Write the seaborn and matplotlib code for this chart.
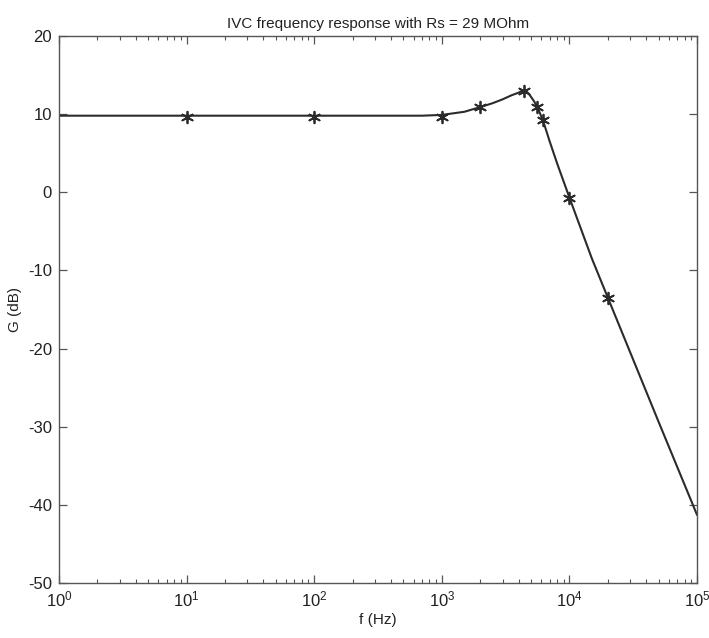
import numpy as np
import pandas as pd
import matplotlib
matplotlib.use("Agg")
import matplotlib.pyplot as plt
from matplotlib.ticker import LogLocator, FixedLocator, NullFormatter
import seaborn as sns

# Response curve (frequency in Hz, gain in dB)
curve_f = [1, 10, 100, 300, 700, 1000, 1500, 2000, 2500, 3000, 3500, 4000, 4200, 4400,
           4600, 4800, 5000, 5300, 5600, 6200, 7000, 8000, 10000, 15000, 20000, 50000, 100000]
curve_g = [9.8, 9.8, 9.8, 9.8, 9.8, 9.9, 10.3, 10.9, 11.4, 11.9, 12.4, 12.75, 12.95, 13.0,
           12.9, 12.6, 12.2, 11.6, 10.9, 9.2, 6.5, 3.7, -0.7, -8.5, -13.5, -29.4, -41.3]

# Measured points
meas_f = [10, 100, 1000, 2000, 4400, 5600, 6200, 10000, 20000]
meas_g = [9.6, 9.6, 9.6, 10.9, 13.0, 10.9, 9.2, -0.7, -13.5]

x_ticks = [1, 10, 100, 1000, 10000, 100000]
x_tick_labels = [r"$10^{0}$", r"$10^{1}$", r"$10^{2}$", r"$10^{3}$", r"$10^{4}$", r"$10^{5}$"]
y_ticks = [-50, -40, -30, -20, -10, 0, 10, 20]

sns.set_theme(style="white")
plt.rcParams["font.family"] = ["Liberation Sans", "DejaVu Sans"]
plt.rcParams["mathtext.fontset"] = "custom"
plt.rcParams["mathtext.rm"] = "Liberation Sans"
plt.rcParams["mathtext.it"] = "Liberation Sans"
plt.rcParams["axes.unicode_minus"] = False

curve = pd.DataFrame({"f": curve_f, "G": curve_g})
meas = pd.DataFrame({"f": meas_f, "G": meas_g})

fig = plt.figure(figsize=(7.09, 6.38), dpi=100)
ax = fig.add_axes([0.0832, 0.0862, 0.9, 0.8574])

ink = "#2b2b2b"
sns.lineplot(data=curve, x="f", y="G", ax=ax, color=ink, linewidth=1.5)
sns.scatterplot(data=meas, x="f", y="G", ax=ax, marker=(6, 2, 0), s=70,
                color=ink, linewidth=1.3, zorder=3)

ax.set_xscale("log")
ax.set_xlim(1, 1e5)
ax.set_ylim(-50, 20)
ax.xaxis.set_major_locator(FixedLocator(x_ticks))
ax.set_xticklabels(x_tick_labels)
ax.xaxis.set_minor_locator(LogLocator(base=10, subs=np.arange(2, 10), numticks=20))
ax.xaxis.set_minor_formatter(NullFormatter())
ax.set_yticks(y_ticks)

for s in ax.spines.values():
    s.set_color("#555555")
    s.set_linewidth(1.0)

ax.tick_params(axis="both", which="major", direction="in", length=6, width=0.9,
               top=True, right=True, bottom=True, left=True, color="#555555",
               labelsize=12, labelcolor="#222222", pad=5)
ax.tick_params(axis="x", which="minor", direction="in", length=3, width=0.8,
               top=True, bottom=True, color="#555555")

ax.set_xlabel("f (Hz)", fontsize=11, color="#222222", labelpad=2)
ax.set_ylabel("G (dB)", fontsize=11, color="#222222", labelpad=4)
ax.set_title("IVC frequency response with Rs = 29 MOhm", fontsize=11,
             color="#222222", pad=6)

fig.savefig("out.png", dpi=100, facecolor="white")
